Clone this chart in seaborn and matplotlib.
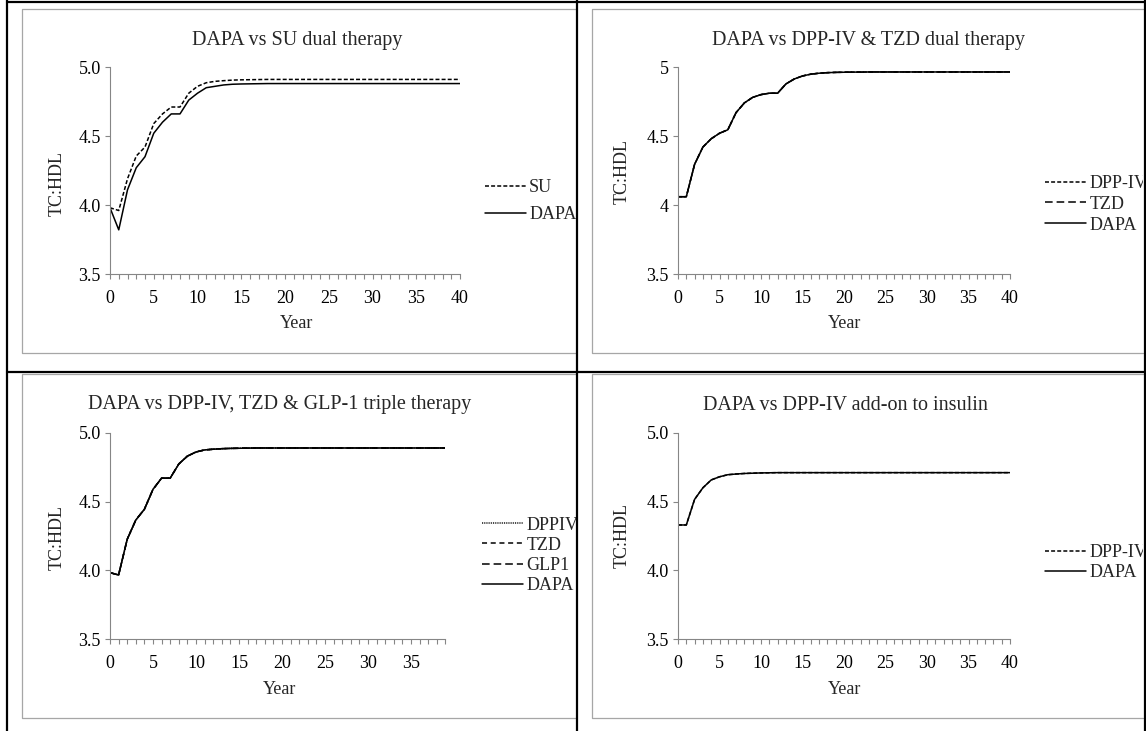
import matplotlib
matplotlib.use("Agg")
import matplotlib.pyplot as plt
import seaborn as sns
import pandas as pd
from matplotlib.lines import Line2D
from matplotlib.patches import Rectangle
from matplotlib.ticker import MultipleLocator, FormatStrFormatter, FuncFormatter

# ---------------------------------------------------------------- data
years_40 = list(range(0, 41))
years_39 = list(range(0, 40))

# DAPA vs SU dual therapy
su_dual_su = [3.98, 3.96, 4.19, 4.355, 4.42, 4.59, 4.66, 4.71, 4.71, 4.81,
              4.86, 4.886, 4.896, 4.901, 4.905, 4.907, 4.908, 4.909, 4.910, 4.910,
              4.910, 4.910, 4.910, 4.910, 4.910, 4.910, 4.910, 4.910, 4.910, 4.910,
              4.910, 4.910, 4.910, 4.910, 4.910, 4.910, 4.910, 4.910, 4.910, 4.910,
              4.910]
su_dual_dapa = [3.98, 3.82, 4.11, 4.27, 4.35, 4.52, 4.60, 4.66, 4.66, 4.76,
                4.81, 4.85, 4.86, 4.870, 4.875, 4.877, 4.878, 4.879, 4.880, 4.880,
                4.880, 4.880, 4.880, 4.880, 4.880, 4.880, 4.880, 4.880, 4.880, 4.880,
                4.880, 4.880, 4.880, 4.880, 4.880, 4.880, 4.880, 4.880, 4.880, 4.880,
                4.880]

# DAPA vs DPP-IV & TZD dual therapy
dt_dual_dpp4 = [4.06, 4.06, 4.295, 4.42, 4.48, 4.52, 4.545, 4.67, 4.74, 4.78,
                4.80, 4.81, 4.81, 4.877, 4.913, 4.935, 4.948, 4.955, 4.959, 4.961,
                4.962, 4.963, 4.963, 4.964, 4.964, 4.964, 4.964, 4.964, 4.964, 4.964,
                4.964, 4.964, 4.964, 4.964, 4.964, 4.964, 4.964, 4.964, 4.964, 4.964,
                4.964]
dt_dual_tzd = [4.06, 4.06, 4.295, 4.42, 4.48, 4.52, 4.545, 4.67, 4.74, 4.78,
               4.80, 4.81, 4.81, 4.877, 4.913, 4.935, 4.948, 4.955, 4.959, 4.961,
               4.962, 4.963, 4.963, 4.964, 4.964, 4.964, 4.964, 4.964, 4.964, 4.964,
               4.964, 4.964, 4.964, 4.964, 4.964, 4.964, 4.964, 4.964, 4.964, 4.964,
               4.964]
dt_dual_dapa = [4.06, 4.06, 4.295, 4.42, 4.48, 4.52, 4.545, 4.67, 4.74, 4.78,
                4.80, 4.81, 4.81, 4.877, 4.913, 4.935, 4.948, 4.955, 4.959, 4.961,
                4.962, 4.963, 4.963, 4.964, 4.964, 4.964, 4.964, 4.964, 4.964, 4.964,
                4.964, 4.964, 4.964, 4.964, 4.964, 4.964, 4.964, 4.964, 4.964, 4.964,
                4.964]

# DAPA vs DPP-IV, TZD & GLP-1 triple therapy
triple_dppiv = [3.984, 3.967, 4.226, 4.366, 4.444, 4.589, 4.67, 4.67, 4.773, 4.83,
                4.86, 4.875, 4.880, 4.884, 4.886, 4.887, 4.888, 4.889, 4.889, 4.889,
                4.889, 4.889, 4.889, 4.889, 4.889, 4.889, 4.889, 4.889, 4.889, 4.889,
                4.889, 4.889, 4.889, 4.889, 4.889, 4.889, 4.889, 4.889, 4.889, 4.889]
triple_tzd = [3.984, 3.967, 4.226, 4.366, 4.444, 4.589, 4.67, 4.67, 4.773, 4.83,
              4.86, 4.875, 4.880, 4.884, 4.886, 4.887, 4.888, 4.889, 4.889, 4.889,
              4.889, 4.889, 4.889, 4.889, 4.889, 4.889, 4.889, 4.889, 4.889, 4.889,
              4.889, 4.889, 4.889, 4.889, 4.889, 4.889, 4.889, 4.889, 4.889, 4.889]
triple_glp1 = [3.984, 3.967, 4.226, 4.366, 4.444, 4.589, 4.67, 4.67, 4.773, 4.83,
               4.86, 4.875, 4.880, 4.884, 4.886, 4.887, 4.888, 4.889, 4.889, 4.889,
               4.889, 4.889, 4.889, 4.889, 4.889, 4.889, 4.889, 4.889, 4.889, 4.889,
               4.889, 4.889, 4.889, 4.889, 4.889, 4.889, 4.889, 4.889, 4.889, 4.889]
triple_dapa = [3.984, 3.967, 4.226, 4.366, 4.444, 4.589, 4.67, 4.67, 4.773, 4.83,
               4.86, 4.875, 4.880, 4.884, 4.886, 4.887, 4.888, 4.889, 4.889, 4.889,
               4.889, 4.889, 4.889, 4.889, 4.889, 4.889, 4.889, 4.889, 4.889, 4.889,
               4.889, 4.889, 4.889, 4.889, 4.889, 4.889, 4.889, 4.889, 4.889, 4.889]

# DAPA vs DPP-IV add-on to insulin
insulin_dpp4 = [4.33, 4.33, 4.516, 4.60, 4.657, 4.68, 4.695, 4.700, 4.704, 4.706,
                4.708, 4.709, 4.710, 4.710, 4.710, 4.710, 4.710, 4.710, 4.710, 4.710,
                4.710, 4.710, 4.710, 4.710, 4.710, 4.710, 4.710, 4.710, 4.710, 4.710,
                4.710, 4.710, 4.710, 4.710, 4.710, 4.710, 4.710, 4.710, 4.710, 4.710,
                4.710]
insulin_dapa = [4.33, 4.33, 4.516, 4.60, 4.657, 4.68, 4.695, 4.700, 4.704, 4.706,
                4.708, 4.709, 4.710, 4.710, 4.710, 4.710, 4.710, 4.710, 4.710, 4.710,
                4.710, 4.710, 4.710, 4.710, 4.710, 4.710, 4.710, 4.710, 4.710, 4.710,
                4.710, 4.710, 4.710, 4.710, 4.710, 4.710, 4.710, 4.710, 4.710, 4.710,
                4.710]

titles = ["DAPA vs SU dual therapy",
          "DAPA vs DPP-IV & TZD dual therapy",
          "DAPA vs DPP-IV, TZD & GLP-1 triple therapy",
          "DAPA vs DPP-IV add-on to insulin"]
y_ticks = [3.5, 4.0, 4.5, 5.0]
x_label = "Year"
y_label = "TC:HDL"

# ---------------------------------------------------------------- style
sns.set_theme(style="ticks")
plt.rcParams["font.family"] = ["Liberation Serif", "DejaVu Serif"]

W, H = 1146, 731
fig = plt.figure(figsize=(W / 100, H / 100), dpi=100)
fig.patch.set_facecolor("white")


def fx(x):
    return x / W


def fy(y):
    return 1 - y / H


AXIS_GREY = "#868686"
FRAME_GREY = "#a6a6a6"
TICK_FS = 13
TITLE_FS = 14.5
LEG_FS = 13

LW = 1.1
STYLES = {
    "solid": "-",
    "short": (0, (2.6, 1.4)),
    "dash": (0, (3.3, 2.4)),
    "long": (0, (5.0, 2.6)),
    "dot": (0, (0.6, 0.6)),
}


def make_panel(rect_px, xlim, xmax_label, years, series, title, title_xy,
               xlabel_xy, ylabel_xy, legend_xy, legend_spacing, yfmt):
    x0, x1, ytop, ybot = rect_px
    ax = fig.add_axes([fx(x0), fy(ybot), (x1 - x0) / W, (ybot - ytop) / H])
    ax.set_facecolor("none")
    for name, values, style in series:
        df = pd.DataFrame({"Year": years, "TC:HDL": values})
        sns.lineplot(data=df, x="Year", y="TC:HDL", ax=ax, color="black",
                     linewidth=LW, linestyle=STYLES[style], label=name,
                     legend=False)
    ax.set_xlim(*xlim)
    ax.set_ylim(3.5, 5.0)
    ax.set_xticks(list(range(0, xmax_label + 1, 5)))
    ax.xaxis.set_minor_locator(MultipleLocator(1))
    ax.set_yticks(y_ticks)
    ax.yaxis.set_major_formatter(yfmt)
    for side in ("top", "right"):
        ax.spines[side].set_visible(False)
    for side in ("left", "bottom"):
        ax.spines[side].set_color(AXIS_GREY)
        ax.spines[side].set_linewidth(0.8)
    ax.tick_params(axis="both", which="both", direction="out", length=3.6,
                   width=0.8, color=AXIS_GREY, labelsize=TICK_FS,
                   labelcolor="black")
    ax.tick_params(axis="x", which="both", pad=8)
    ax.tick_params(axis="y", which="both", pad=3)
    ax.set_xlabel("")
    ax.set_ylabel("")

    fig.text(fx(title_xy[0]), fy(title_xy[1]), title, fontsize=TITLE_FS,
             ha="center", va="center")
    fig.text(fx(xlabel_xy[0]), fy(xlabel_xy[1]), x_label, fontsize=TICK_FS,
             ha="center", va="center")
    fig.text(fx(ylabel_xy[0]), fy(ylabel_xy[1]), y_label, fontsize=TICK_FS,
             ha="center", va="center", rotation=90)

    handles = [Line2D([], [], color="black", linewidth=LW,
                      linestyle=STYLES[s]) for _, _, s in series]
    labels = [n for n, _, _ in series]
    ax.legend(handles, labels, loc="upper left",
              bbox_to_anchor=(fx(legend_xy[0]), fy(legend_xy[1])),
              bbox_transform=fig.transFigure, frameon=False,
              fontsize=LEG_FS, handlelength=2.25, handletextpad=0.2,
              borderpad=0, borderaxespad=0, labelspacing=legend_spacing)
    return ax


fmt1 = FormatStrFormatter("%.1f")
fmt_general = FuncFormatter(lambda v, p: f"{v:g}")

make_panel((110, 460, 67, 274), (0, 40), 40, years_40,
           [("SU", su_dual_su, "short"), ("DAPA", su_dual_dapa, "solid")],
           titles[0], (297, 40), (297, 324), (57, 184), (485, 179), 0.58, fmt1)

make_panel((678, 1010, 67, 274), (0, 40), 40, years_40,
           [("DPP-IV", dt_dual_dpp4, "short"), ("TZD", dt_dual_tzd, "long"),
            ("DAPA", dt_dual_dapa, "solid")],
           titles[1], (868, 40), (845, 324), (622, 171), (1045, 175), 0.21,
           fmt_general)

make_panel((110, 445.4, 432.7, 639.3), (0, 39), 35, years_39,
           [("DPPIV", triple_dppiv, "dot"), ("TZD", triple_tzd, "dash"),
            ("GLP1", triple_glp1, "long"), ("DAPA", triple_dapa, "solid")],
           titles[2], (280, 405), (280, 690), (57, 537), (482, 516.5), 0.18,
           fmt1)

make_panel((678, 1010, 432.7, 639.3), (0, 40), 40, years_40,
           [("DPP-IV", insulin_dpp4, "short"), ("DAPA", insulin_dapa, "solid")],
           titles[3], (845, 405), (845, 690), (622, 536), (1045, 544), 0.17,
           fmt1)

# ---------------------------------------------------------------- cell layout
# blank gutters so each chart ends at its cell border
for (x, y, w, h) in [(577, 0, 15, H), (1143, 0, 3, H)]:
    fig.add_artist(Rectangle((fx(x), fy(y + h)), w / W, h / H,
                             transform=fig.transFigure, facecolor="white",
                             edgecolor="none", zorder=10))

# light chart-area frames
frames = [(22, 9, 576, 353), (592, 9, 1143, 353),
          (22, 374, 576, 718), (592, 374, 1143, 718)]
for (l, t, r, b) in frames:
    fig.add_artist(Line2D([fx(r), fx(l), fx(l), fx(r)],
                          [fy(t), fy(t), fy(b), fy(b)],
                          transform=fig.transFigure, color=FRAME_GREY,
                          linewidth=0.9, zorder=11))

# black table rules
rules = [([7, 7], [0, H]), ([576.5, 576.5], [0, H]), ([1144.5, 1144.5], [0, H]),
         ([7, W], [371.5, 371.5]), ([7, W], [2, 2])]
for xs, ys in rules:
    fig.add_artist(Line2D([fx(v) for v in xs], [fy(v) for v in ys],
                          transform=fig.transFigure, color="black",
                          linewidth=1.6, zorder=12))

fig.savefig("out.png", dpi=100, facecolor="white")
